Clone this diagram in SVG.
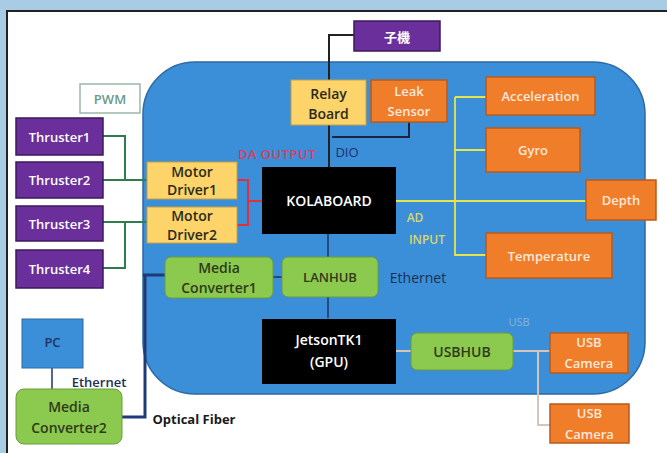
<svg xmlns="http://www.w3.org/2000/svg" width="667" height="453" viewBox="0 0 667 453">
<style>
text{font-family:"Open Sans","Liberation Sans",sans-serif;font-size:13px;text-anchor:middle;dominant-baseline:central}
g.n text{font-weight:600}
.pur{fill:#6b2f9c;stroke:#3d1a5c;stroke-width:1.5}
.yel{fill:#fdd46a;stroke:#c8a040;stroke-width:1}
.ora{fill:#f07d2a;stroke:#b85a1a;stroke-width:1.5}
.grn{fill:#8cc94f;stroke:#6a9c3a;stroke-width:1}
.blk{fill:#000}
.wt{fill:#fff}
.dt{fill:#2a2a1a}
.ot{fill:#fbe8d8}
.gt{fill:#2f3a1a}
.c{fill:none}
</style>
<rect x="0" y="0" width="667" height="453" fill="#a9cce5"/>
<rect x="7" y="11" width="660" height="442" fill="#fff"/>
<path d="M7 453V11H667" fill="none" stroke="#222" stroke-width="2"/>
<rect id="mainboard" x="143" y="62" width="502" height="332" rx="52" ry="52" fill="#3b8ed8" stroke="#2d6aa3" stroke-width="1.5"/>

<g id="connectors" class="c">
<g stroke="#2e7d4f" stroke-width="2">
<path d="M103 136H125V180M103 180H147"/>
<path d="M103 222H147M103 268H125V222"/>
</g>
<g stroke="#e0303e" stroke-width="2">
<path d="M237 180H248V225H237M248 201H262"/>
</g>
<g stroke="#222" stroke-width="2">
<path d="M329 80V35H354"/>
<path d="M329 125V167"/>
</g>
<path d="M409 122V137H332" stroke="#1a2440" stroke-width="2"/>
<g stroke="#e8e44a" stroke-width="1.8">
<path d="M455 97V255H486M455 97H486M455 150H486"/>
<path d="M396 201H586"/>
</g>
<g stroke="#1e3560" stroke-width="1.5">
<path d="M328 234V257M328 297V318M273 277H282"/>
<path d="M52 368V389"/>
</g>
<path d="M143 275H165M145 275V417H122" stroke="#1e3a78" stroke-width="3"/>
<g stroke="#d4c4bc" stroke-width="2">
<path d="M396 351H411M513 351H550M538 351V425H550"/>
</g>
</g>

<g id="pwm"><rect x="80" y="84" width="60" height="29" fill="#fff" stroke="#9ab8a8" stroke-width="1.5"/><text x="110" y="99" fill="#6a9a88" style="font-weight:600">PWM</text></g>

<g class="n" id="thruster1"><rect class="pur" x="16" y="118" width="87" height="37"/><text class="wt" x="59.5" y="136.5">Thruster1</text></g>
<g class="n" id="thruster2"><rect class="pur" x="16" y="162" width="87" height="36"/><text class="wt" x="59.5" y="180">Thruster2</text></g>
<g class="n" id="thruster3"><rect class="pur" x="16" y="206" width="87" height="35"/><text class="wt" x="59.5" y="223.5">Thruster3</text></g>
<g class="n" id="thruster4"><rect class="pur" x="16" y="250" width="87" height="38"/><text class="wt" x="59.5" y="269">Thruster4</text></g>

<g class="n" id="kiki"><rect class="pur" x="354" y="21" width="86" height="30"/><text class="wt" x="397" y="36" style="font-family:'Noto Sans CJK JP',sans-serif">子機</text></g>

<g class="n" id="relay"><rect class="yel" x="291" y="80" width="75" height="45"/><text class="dt" x="328.5" y="93" style="font-size:14px">Relay</text><text class="dt" x="328.5" y="113" style="font-size:14px">Board</text></g>
<g class="n" id="leak"><rect class="ora" x="371" y="80" width="76" height="42"/><text class="ot" x="409" y="91">Leak</text><text class="ot" x="409" y="111">Sensor</text></g>

<g class="n" id="accel"><rect class="ora" x="486" y="77" width="109" height="38"/><text class="ot" x="540.5" y="96">Acceleration</text></g>
<g class="n" id="gyro"><rect class="ora" x="486" y="128" width="94" height="44"/><text class="ot" x="533" y="150">Gyro</text></g>
<g class="n" id="depth"><rect class="ora" x="586" y="180" width="70" height="40"/><text class="ot" x="621" y="200">Depth</text></g>
<g class="n" id="temp"><rect class="ora" x="486" y="233" width="126" height="45"/><text class="ot" x="549" y="255.5">Temperature</text></g>

<g class="n" id="md1"><rect class="yel" x="147" y="162" width="90" height="37"/><text class="dt" x="192" y="171" style="font-size:14px">Motor</text><text class="dt" x="192" y="189" style="font-size:14px">Driver1</text></g>
<g class="n" id="md2"><rect class="yel" x="147" y="207" width="90" height="36"/><text class="dt" x="192" y="215" style="font-size:14px">Motor</text><text class="dt" x="192" y="234" style="font-size:14px">Driver2</text></g>

<g class="n" id="kolaboard"><rect class="blk" x="262" y="167" width="134" height="67"/><text class="wt" x="329" y="200" style="font-size:14px">KOLABOARD</text></g>

<g class="n" id="mc1"><rect class="grn" x="165" y="257" width="108" height="41" rx="6"/><text class="gt" x="219" y="267" style="font-size:14px">Media</text><text class="gt" x="219" y="287" style="font-size:14px">Converter1</text></g>
<g class="n" id="lanhub"><rect class="grn" x="282" y="257" width="96" height="40" rx="6"/><text class="gt" x="330" y="277">LANHUB</text></g>

<g class="n" id="jetson"><rect class="blk" x="262" y="319" width="134" height="65"/><text class="wt" x="329" y="339" style="font-size:14px">JetsonTK1</text><text class="wt" x="329" y="361" style="font-size:14px">(GPU)</text></g>
<g class="n" id="usbhub"><rect class="grn" x="411" y="333" width="102" height="37" rx="6"/><text class="gt" x="462" y="351.5" style="font-size:14px">USBHUB</text></g>
<g class="n" id="cam1"><rect class="ora" x="550" y="333" width="78" height="40"/><text class="ot" x="589" y="342">USB</text><text class="ot" x="589" y="363">Camera</text></g>
<g class="n" id="cam2"><rect class="ora" x="550" y="404" width="79" height="39"/><text class="ot" x="589.5" y="413">USB</text><text class="ot" x="589.5" y="434">Camera</text></g>

<g class="n" id="pc"><rect x="22" y="319" width="61" height="49" fill="#3b8ed8" stroke="#2d6aa3" stroke-width="1"/><text x="52.5" y="342" fill="#1e3560">PC</text></g>
<g class="n" id="mc2"><rect class="grn" x="16" y="389" width="106" height="55" rx="8"/><text class="gt" x="69" y="406" style="font-size:14px">Media</text><text class="gt" x="69" y="427" style="font-size:14px">Converter2</text></g>

<g id="labels">
<text x="277" y="154" fill="#d8405c" style="font-weight:600;font-size:13px;letter-spacing:0.5px">DA OUTPUT</text>
<text x="347" y="152" fill="#1e3070" style="font-size:13px">DIO</text>
<text x="415" y="217" fill="#d8d86a" style="font-size:12px;font-weight:600">AD</text>
<text x="427" y="239" fill="#d8d86a" style="font-size:12px;font-weight:600">INPUT</text>
<text x="418" y="277" fill="#1e3050" style="font-size:14px">Ethernet</text>
<text x="519" y="321" fill="#8ab4d8" style="font-size:11px">USB</text>
<text x="99" y="382" fill="#1e3050" style="font-weight:600">Ethernet</text>
<text x="194" y="419" fill="#1a1a1a" style="font-weight:bold">Optical Fiber</text>
</g>
</svg>
